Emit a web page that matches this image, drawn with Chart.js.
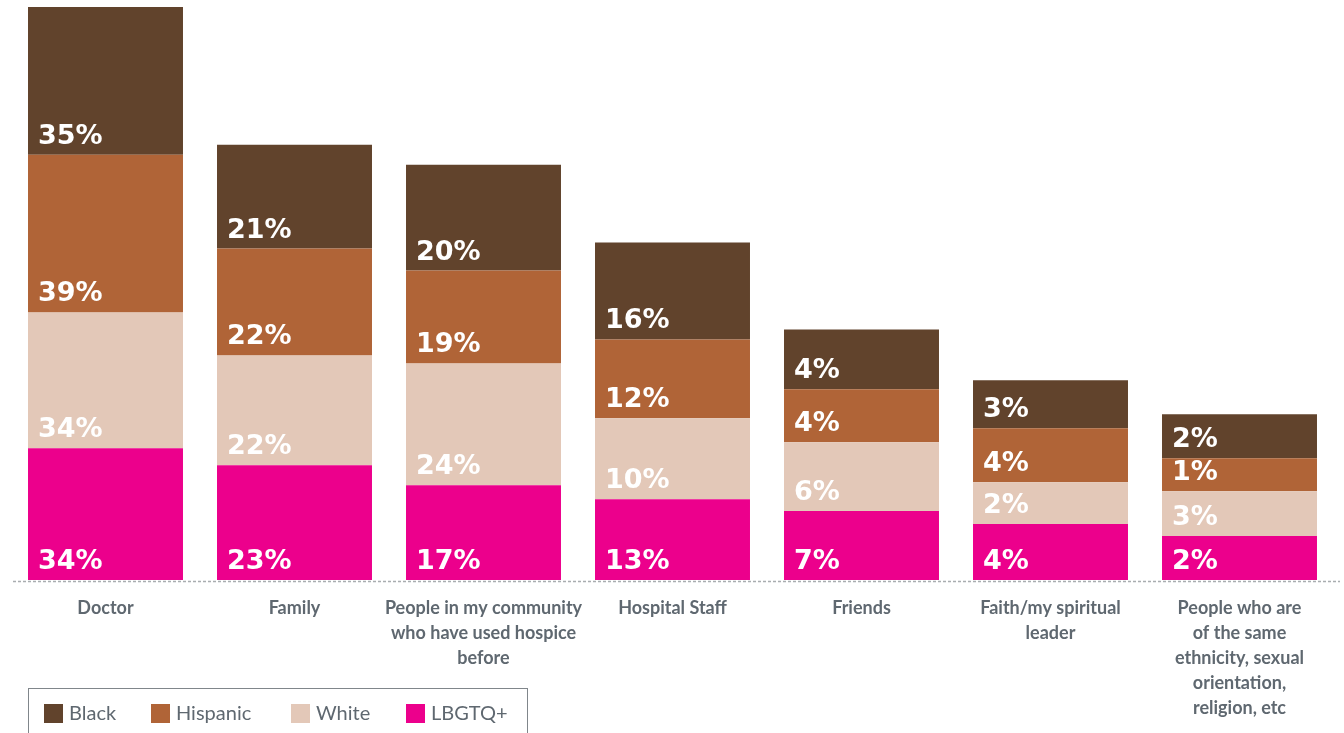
<!DOCTYPE html>
<html>
<head>
<meta charset="utf-8">
<script src="https://cdn.jsdelivr.net/npm/chart.js@4.4.1/dist/chart.umd.min.js"></script>
<style>
  html, body { margin: 0; padding: 0; background: #fff; }
  #wrap { position: relative; width: 1344px; height: 733px; }
  #legend {
    position: absolute; left: 28px; top: 688px; width: 500px; height: 50px;
    border: 1.5px solid #80868b; box-sizing: border-box;
    font-family: Lato, sans-serif; font-size: 20px; color: #5f6870;
  }
  #legend span.item { position: absolute; top: 11px; white-space: nowrap; }
  #legend span.sw { display: inline-block; width: 19px; height: 19px; vertical-align: -3px; margin-right: 6px; }
</style>
</head>
<body>
<div id="wrap">
  <canvas id="chart" width="1344" height="733"></canvas>
  <div id="legend"></div>
</div>
<script>
// categories (x axis, multi-line)
const categories = [
    ['Doctor'],
    ['Family'],
    ['People in my community', 'who have used hospice', 'before'],
    ['Hospital Staff'],
    ['Friends'],
    ['Faith/my spiritual', 'leader'],
    ['People who are', 'of the same', 'ethnicity, sexual', 'orientation,', 'religion, etc']
];

// percentages printed on the segments
const blackPct    = [35, 21, 20, 16, 4, 3, 2];
const hispanicPct = [39, 22, 19, 12, 4, 4, 1];
const whitePct    = [34, 22, 24, 10, 6, 2, 3];
const lgbtqPct    = [34, 23, 17, 13, 7, 4, 2];

// drawn segment sizes as they appear in the picture (not proportional to the %)
const blackSize    = [148, 104, 106, 97, 60, 48, 44];
const hispanicSize = [158, 107, 93, 79, 53, 54, 33];
const whiteSize    = [136, 110, 122, 81, 69, 42, 45];
const lgbtqSize    = [132, 115, 95, 81, 69, 56, 44];
const sizeMax = 574;

const colors = {
    black: '#61432c',
    hispanic: '#b06437',
    white: '#e3c8b8',
    lgbtq: '#ec008c'
};

const datasets = [
    { label: 'LBGTQ+',   data: lgbtqSize,    pct: lgbtqPct,    backgroundColor: colors.lgbtq },
    { label: 'White',    data: whiteSize,    pct: whitePct,    backgroundColor: colors.white },
    { label: 'Hispanic', data: hispanicSize, pct: hispanicPct, backgroundColor: colors.hispanic },
    { label: 'Black',    data: blackSize,    pct: blackPct,    backgroundColor: colors.black }
];

// ============================================================
// dotted baseline under the bars
// ============================================================
const dottedBase = {
    id: 'dottedBase',
    beforeDatasetsDraw(chart) {
        const ctx = chart.ctx;
        const y = chart.scales.y.getPixelForValue(0) + 1.5;
        ctx.save();
        ctx.strokeStyle = '#a9adb0';
        ctx.lineWidth = 1.5;
        ctx.setLineDash([3, 2]);
        ctx.beginPath();
        ctx.moveTo(13, y);
        ctx.lineTo(1340, y);
        ctx.stroke();
        ctx.restore();
    }
};

// ============================================================
// percentage labels, bottom-left of each segment
// ============================================================
const segmentLabels = {
    id: 'segmentLabels',
    afterDatasetsDraw(chart) {
        const ctx = chart.ctx;
        ctx.save();
        ctx.fillStyle = '#ffffff';
        ctx.font = 'bold 27px "DejaVu Sans", sans-serif';
        ctx.textAlign = 'left';
        ctx.textBaseline = 'alphabetic';
        chart.data.datasets.forEach(function(ds, i) {
            chart.getDatasetMeta(i).data.forEach(function(bar, j) {
                const left = bar.x - bar.width / 2;
                ctx.fillText(ds.pct[j] + '%', left + 10, bar.base - 11);
            });
        });
        ctx.restore();
    }
};

const chart = new Chart(document.getElementById('chart'), {
    type: 'bar',
    data: {
        labels: categories,
        datasets: datasets.map(function(d) {
            return Object.assign({ borderWidth: 0, barPercentage: 0.82, categoryPercentage: 1 }, d);
        })
    },
    options: {
        responsive: false,
        animation: false,
        layout: { padding: { left: 11, right: 10, top: 7, bottom: 0 } },
        plugins: {
            legend: { display: false },
            tooltip: { enabled: false }
        },
        scales: {
            x: {
                stacked: true,
                grid: { display: false, drawTicks: false },
                border: { display: false },
                ticks: {
                    padding: 16,
                    color: '#5f6870',
                    font: { family: 'Lato, sans-serif', size: 18, weight: 'bold', lineHeight: 1.39 },
                    maxRotation: 0,
                    autoSkip: false
                },
                afterFit: function(scale) { scale.height = 153; }
            },
            y: {
                stacked: true,
                display: false,
                min: 0,
                max: sizeMax
            }
        }
    },
    plugins: [dottedBase, segmentLabels]
});

// ============================================================
// legend (boxed, bottom left)
// ============================================================
const legendOrder = ['Black', 'Hispanic', 'White', 'LBGTQ+'];
const legendX = [15, 122, 262, 377];
const legend = document.getElementById('legend');
legendOrder.forEach(function(name, k) {
    const ds = chart.data.datasets.find(function(d) { return d.label === name; });
    const item = document.createElement('span');
    item.className = 'item';
    item.style.left = legendX[k] + 'px';
    item.innerHTML = '<span class="sw" style="background:' + ds.backgroundColor + '"></span>' + name;
    legend.appendChild(item);
});
</script>
</body>
</html>
